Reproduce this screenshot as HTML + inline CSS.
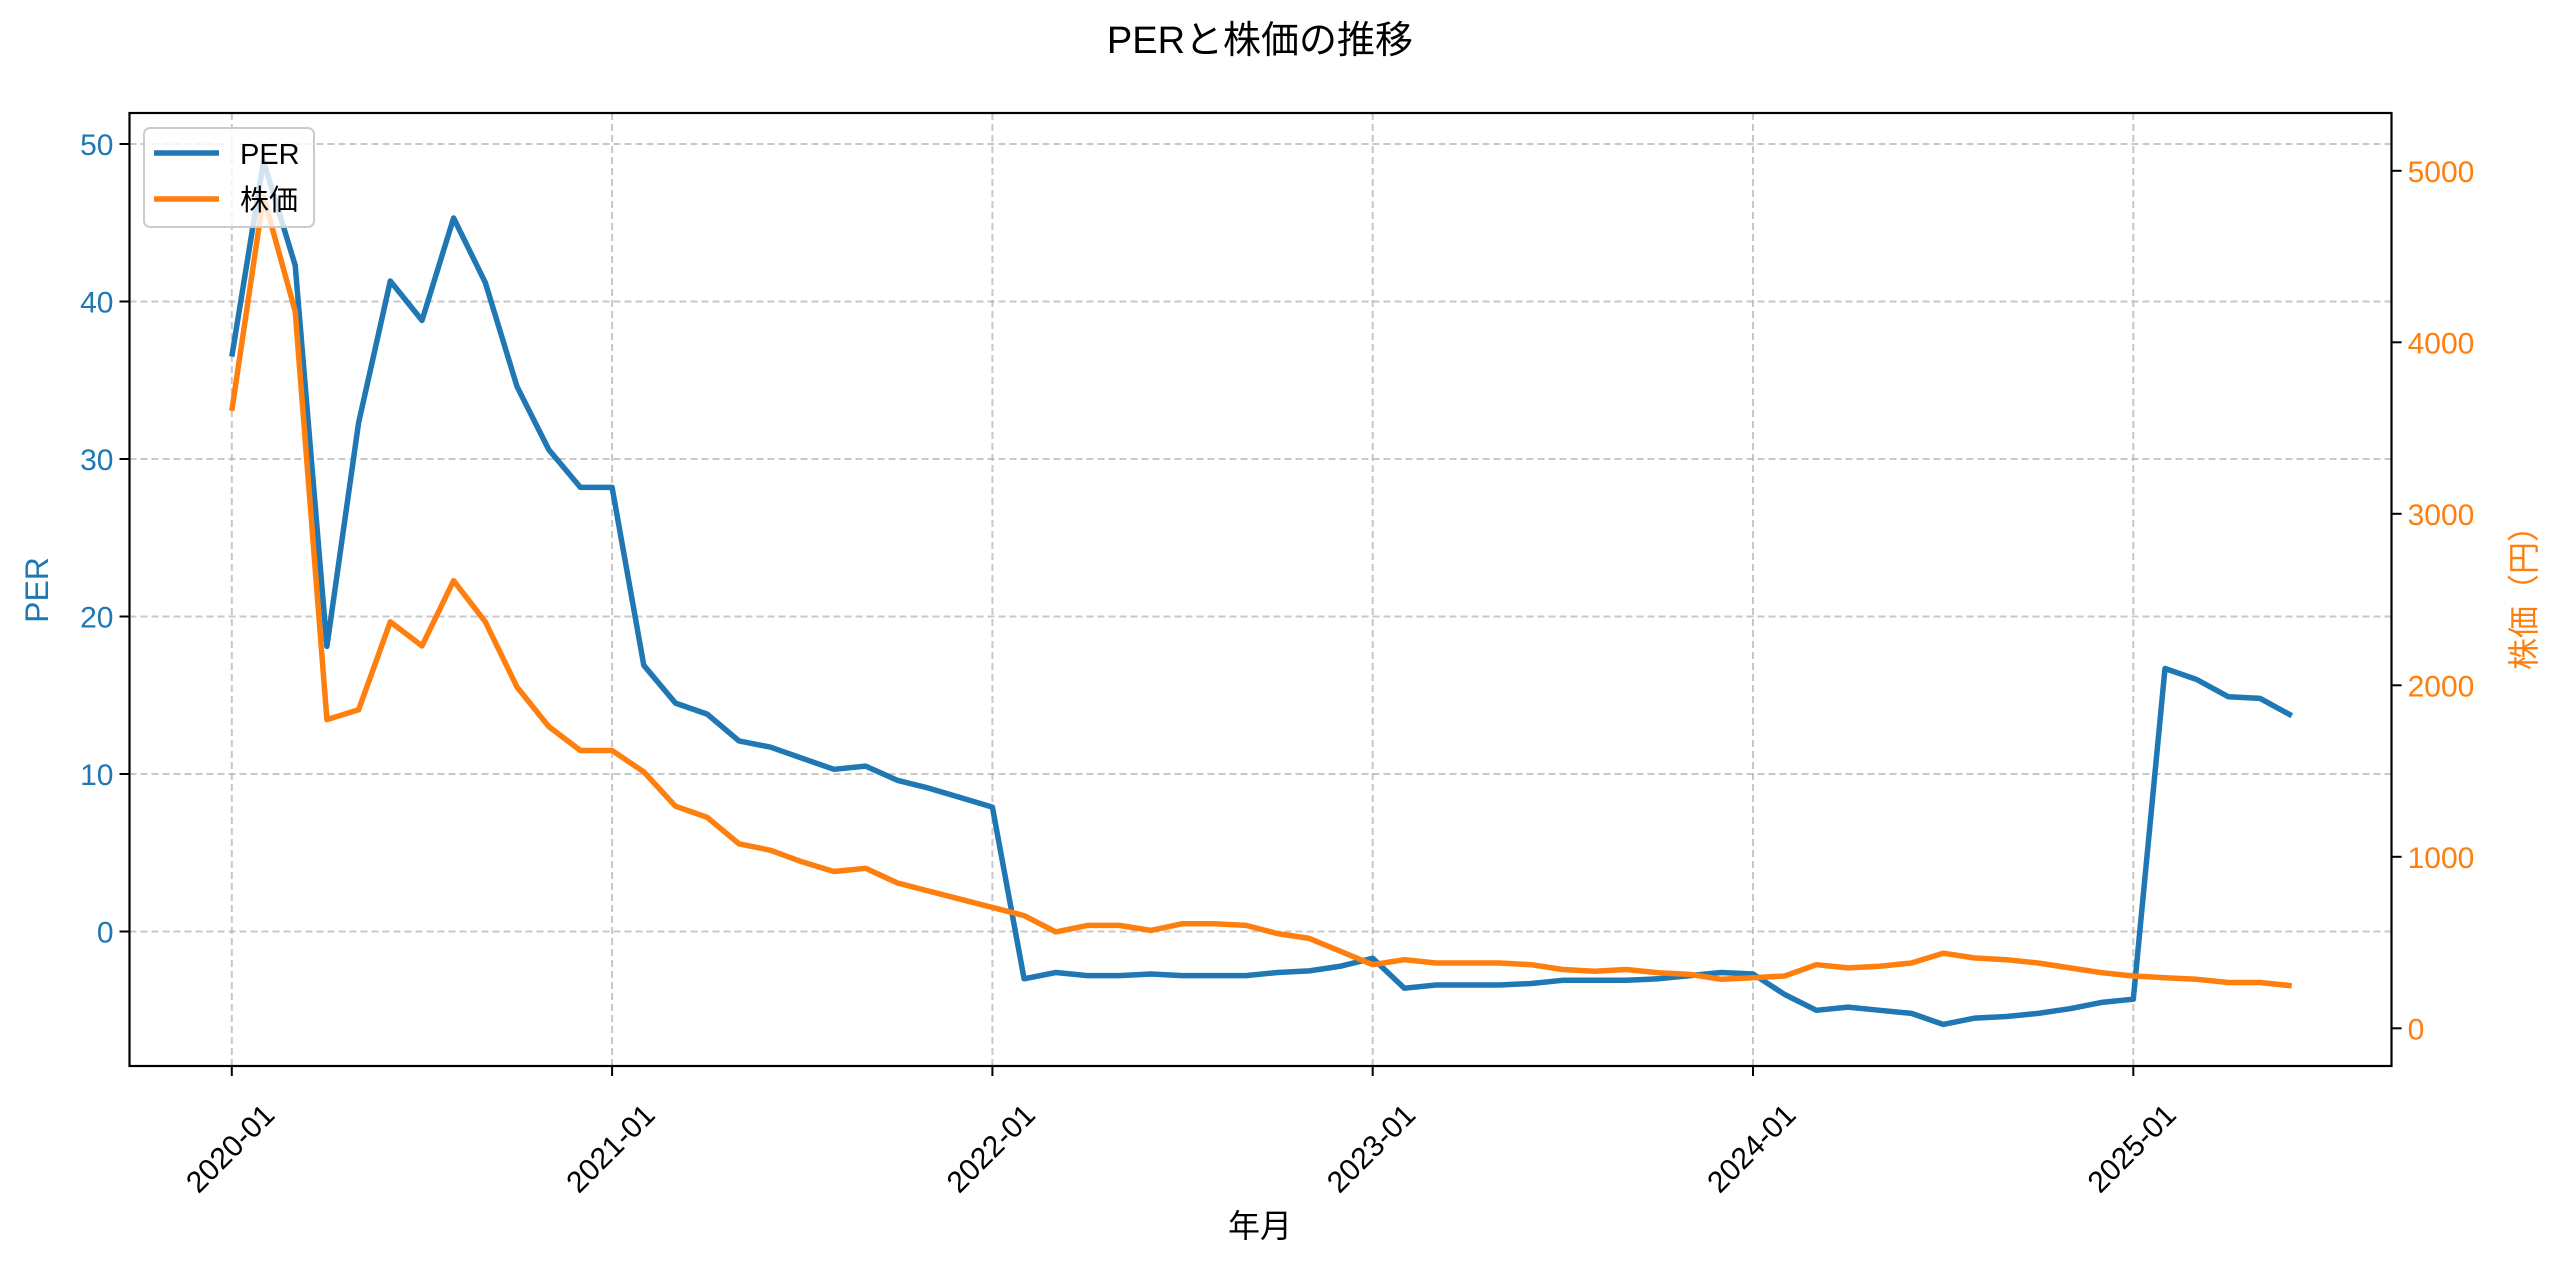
<!DOCTYPE html>
<html><head><meta charset="utf-8"><style>
html,body{margin:0;padding:0;background:#fff;}
svg{display:block;font-family:"Liberation Sans","Noto Sans CJK JP",sans-serif;}
</style></head><body>
<svg id="chart" width="2560" height="1269" viewBox="0 0 2560 1269" xmlns="http://www.w3.org/2000/svg">
<rect width="2560" height="1269" fill="#fff"/>
<text x="1260" y="53" font-size="38" text-anchor="middle" fill="#000">PERと株価の推移</text>
<g id="grid"></g>
<g id="series"></g>
<rect x="129.5" y="113" width="2262" height="953" fill="none" stroke="#000" stroke-width="2.2"/>
<g id="axes"></g>
<text x="0" y="0" transform="translate(48,590) rotate(-90)" font-size="32" fill="#1f77b4" text-anchor="middle">PER</text>
<text x="0" y="0" transform="translate(2535,590) rotate(-90)" font-size="32" fill="#ff7f0e" text-anchor="middle">株価（円）</text>
<text x="1260" y="1237" font-size="32" text-anchor="middle" fill="#000">年月</text>
<g>
<rect x="144" y="128" width="170" height="99" rx="6" fill="#fff" fill-opacity="0.8" stroke="#ccc" stroke-width="2"/>
<line x1="154" y1="153" x2="219" y2="153" stroke="#1f77b4" stroke-width="5.5"/>
<text x="240" y="164" font-size="29" fill="#000">PER</text>
<line x1="154" y1="199" x2="219" y2="199" stroke="#ff7f0e" stroke-width="5.5"/>
<text x="240" y="210" font-size="29" fill="#000">株価</text>
</g>
</svg>
<script>
const perValues = [36.5,48.9,42.3,18.1,32.3,41.3,38.8,45.3,41.2,34.6,30.6,28.2,28.2,16.9,14.5,13.8,12.1,11.7,11.0,10.3,10.5,9.6,9.1,8.5,7.9,-3.0,-2.6,-2.8,-2.8,-2.7,-2.8,-2.8,-2.8,-2.6,-2.5,-2.2,-1.7,-3.6,-3.4,-3.4,-3.4,-3.3,-3.1,-3.1,-3.1,-3.0,-2.8,-2.6,-2.7,-4.0,-5.0,-4.8,-5.0,-5.2,-5.9,-5.5,-5.4,-5.2,-4.9,-4.5,-4.3,16.7,16.0,14.9,14.8,13.7];
const priceValues = [3600,4850,4180,1800,1857,2370,2230,2610,2370,1990,1760,1620,1620,1495,1295,1230,1076,1038,970,914,933,848,800,752,705,657,562,600,600,571,610,610,600,552,524,448,371,400,381,381,381,371,343,333,343,324,314,286,295,305,371,352,362,381,438,410,400,381,352,324,305,295,286,267,267,248];
const startYear = 2020;
const xTickLabels = ["2020-01","2021-01","2022-01","2023-01","2024-01","2025-01"];
const leftTicks = [0,10,20,30,40,50];
const rightTicks = [0,1000,2000,3000,4000,5000];

const NS="http://www.w3.org/2000/svg";
const PL=129.5, PR=2391.6, PT=113, PB=1066;
const xMonth = m => 231.8 + m*(380.3/12);
const yLeft = v => 931.5 - v*15.75;
const yRight = v => 1028.3 - v*0.1715;
function mk(tag, attrs, parent){const e=document.createElementNS(NS,tag);for(const k in attrs)e.setAttribute(k,attrs[k]);parent.appendChild(e);return e;}
const grid=document.getElementById('grid'), axes=document.getElementById('axes'), series=document.getElementById('series');

xTickLabels.forEach((lab,i)=>{
  const x = xMonth(i*12);
  const g = mk('line',{x1:x,y1:PT,x2:x,y2:PB,stroke:'#b0b0b0','stroke-opacity':0.7,'stroke-width':2,'stroke-dasharray':'7,4'},grid);
  
  
  const t = mk('line',{x1:x,y1:PB,x2:x,y2:PB+10,stroke:'#000','stroke-width':2},axes);
  
  
  const tx = mk('text',{transform:`translate(${x},1150) rotate(-45)`,'font-size':30,'text-anchor':'middle','dominant-baseline':'middle',fill:'#000'},axes);
  tx.textContent = lab;
  
  
});
leftTicks.forEach(v=>{
  const y=yLeft(v);
  const g = mk('line',{x1:PL,y1:y,x2:PR,y2:y,stroke:'#b0b0b0','stroke-opacity':0.7,'stroke-width':2,'stroke-dasharray':'7,4'},grid);
  
  
  const t = mk('line',{x1:PL-10,y1:y,x2:PL,y2:y,stroke:'#000','stroke-width':2},axes);
  
  
  const tx = mk('text',{x:PL-16,y:y+11,'font-size':30,'text-anchor':'end',fill:'#1f77b4'},axes);
  tx.textContent = v;
  
  
});
rightTicks.forEach(v=>{
  const y=yRight(v);
  const t = mk('line',{x1:PR,y1:y,x2:PR+10,y2:y,stroke:'#000','stroke-width':2},axes);
  
  
  const tx = mk('text',{x:PR+16,y:y+11,'font-size':30,'text-anchor':'start',fill:'#ff7f0e'},axes);
  tx.textContent = v;
  
  
});
const perPts = perValues.map((v,i)=>xMonth(i).toFixed(1)+','+yLeft(v).toFixed(1)).join(' ');
const pl1 = mk('polyline',{points:perPts,fill:'none',stroke:'#1f77b4','stroke-width':5.5,'stroke-linejoin':'round'},series);


const prPts = priceValues.map((v,i)=>xMonth(i).toFixed(1)+','+yRight(v).toFixed(1)).join(' ');
const pl2 = mk('polyline',{points:prPts,fill:'none',stroke:'#ff7f0e','stroke-width':5.5,'stroke-linejoin':'round'},series);


</script>
</body></html>
